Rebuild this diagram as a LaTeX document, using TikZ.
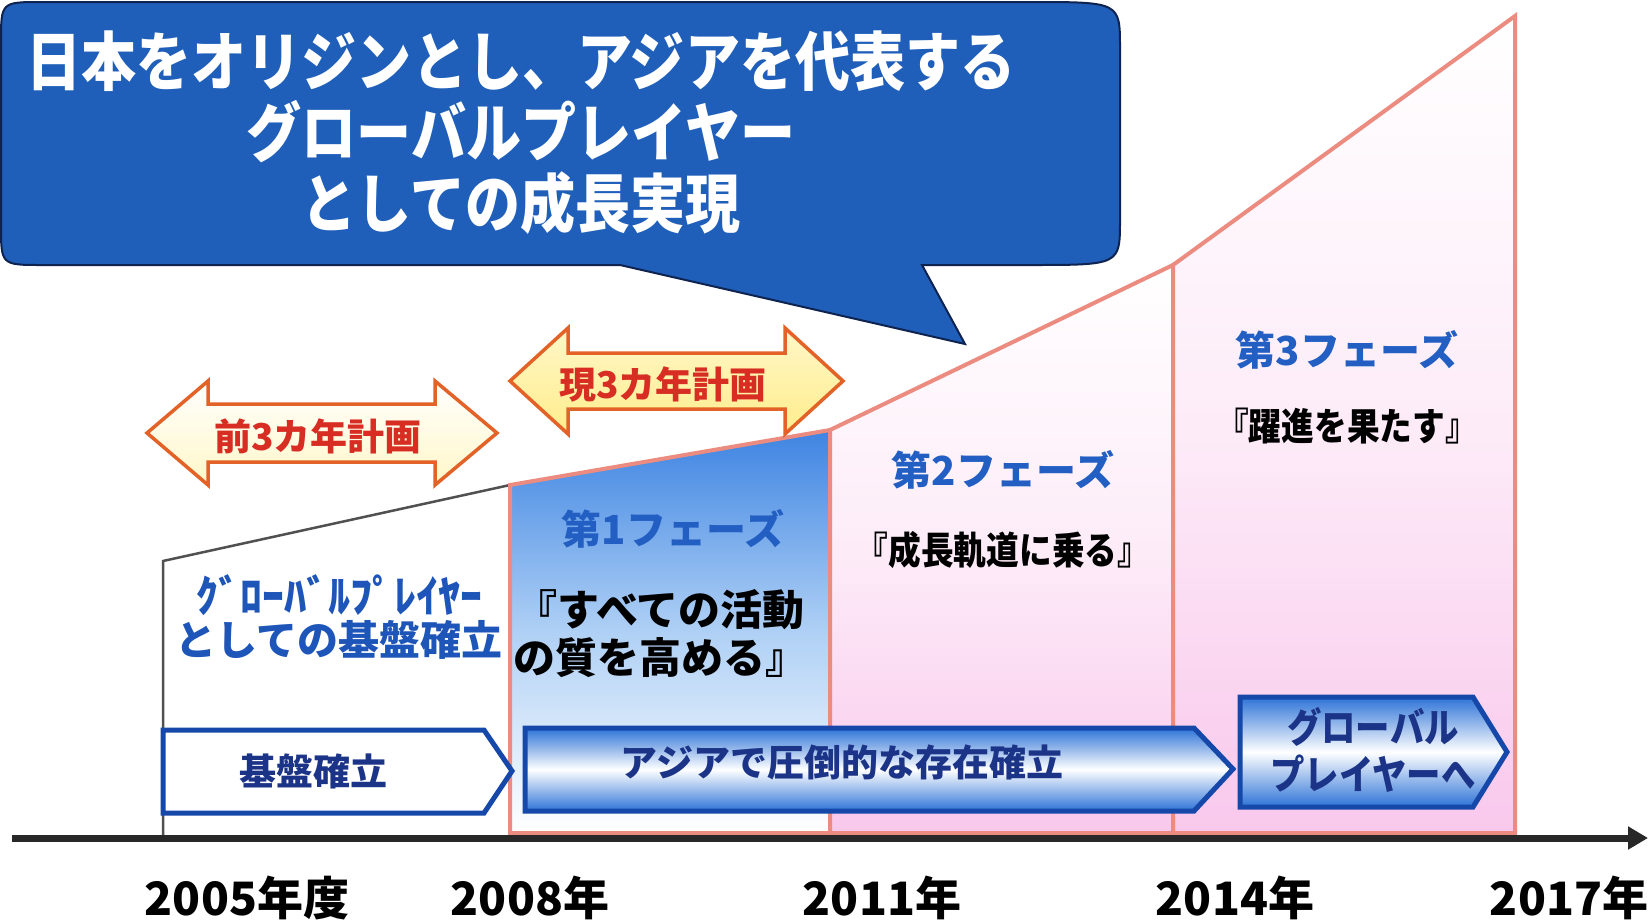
\documentclass[tikz,border=0pt]{standalone}
\usepackage{fontspec}
\usetikzlibrary{arrows.meta}
\newfontfamily\jp{Noto Sans CJK JP}
\newfontfamily\jpc{Noto Sans CJK JP}[FakeStretch=0.86]
\newcommand\fsz[2]{\fontsize{#1}{#2}\selectfont}
\definecolor{bubbleblue}{RGB}{31,95,185}
\definecolor{bubbleedge}{RGB}{15,35,80}
\definecolor{salmon}{RGB}{236,140,128}
\definecolor{pinkfill}{RGB}{249,200,236}
\definecolor{pinklight}{RGB}{253,236,248}
\definecolor{ph1blue}{RGB}{62,132,226}
\definecolor{ph1mid}{RGB}{175,208,245}
\definecolor{orangeedge}{RGB}{226,98,40}
\definecolor{yellowfill}{RGB}{255,237,140}
\definecolor{paleyellow}{RGB}{255,247,200}
\definecolor{chevblue}{RGB}{45,115,215}
\definecolor{chevedge}{RGB}{22,72,170}
\definecolor{navytext}{RGB}{28,52,135}
\definecolor{titleblue}{RGB}{35,95,195}
\definecolor{basetext}{RGB}{30,85,185}
\definecolor{planred}{RGB}{215,45,35}
\definecolor{axisgray}{RGB}{40,40,40}
\definecolor{basegray}{RGB}{80,80,80}
\begin{document}
\begin{tikzpicture}[x=1pt,y=-1pt,
  phasebox/.style={draw=salmon,line width=4pt,line join=miter},
  planarrow/.style={draw=orangeedge,line width=3.5pt,line join=miter},
  chevron/.style={draw=chevedge,line width=5pt,line join=miter},
  bubbletxt/.style={text=white,font=\jpc\bfseries\fsz{64}{71},align=center},
  plantxt/.style={text=planred,font=\jp\bfseries\fsz{37}{42}},
  phasetitle/.style={text=titleblue,font=\jp\bfseries\fsz{40}{46}},
  phasesub/.style={text=black,font=\jp\bfseries\fsz{42}{48},align=center},
  phasesubc/.style={text=black,font=\jpc\bfseries\fsz{38}{44}},
  basetxt/.style={text=basetext,font=\jp\bfseries\fsz{41}{43},align=center},
  chevtxt/.style={text=navytext,font=\jp\bfseries\fsz{37}{42}},
  chevtxtc/.style={text=navytext,font=\jpc\bfseries\fsz{40}{47},align=center},
  yeartxt/.style={text=black,font=\jp\bfseries\fsz{46}{52}},
  axisline/.style={draw=axisgray,line width=7pt,-{Triangle[length=20pt,width=22pt]}}
]
\useasboundingbox (0,0) rectangle (1650,919);
\fill[white] (0,0) rectangle (1650,919);

% base region
\fill[white] (163,838) -- (163,561) -- (510,485) -- (510,838) -- cycle;
\draw[basegray,line width=2.5pt] (163,838) -- (163,561) -- (510,485);

% phases
\path[phasebox,top color=ph1blue,bottom color=white,middle color=ph1mid]
  (510,833) -- (510,485) -- (830,430) -- (830,833) -- cycle;
\path[phasebox,top color=white,bottom color=pinkfill,middle color=pinklight]
  (830,833) -- (830,430) -- (1173,265) -- (1173,833) -- cycle;
\path[phasebox,top color=white,bottom color=pinkfill,middle color=pinklight]
  (1173,833) -- (1173,265) -- (1515,16) -- (1515,833) -- cycle;

% speech bubble
\path[fill=bubbleblue,draw=bubbleedge,line width=2pt]
  (965,344) -- (620,265) -- (42,265) .. controls (1,265) .. (1,225)
  -- (1,42) .. controls (1,2) .. (42,2) -- (1030,2) .. controls (1120,2) .. (1120,48)
  -- (1120,220) .. controls (1120,265) .. (1030,265) -- (922,265) -- cycle;

% plan arrows
\path[planarrow,top color=white,bottom color=paleyellow]
  (147,433) -- (208,381) -- (208,404) -- (435,404) -- (435,381) -- (497,433)
  -- (435,485) -- (435,462) -- (208,462) -- (208,485) -- cycle;
\path[planarrow,top color=paleyellow,bottom color=yellowfill]
  (510,381) -- (568,328) -- (568,353) -- (785,353) -- (785,328) -- (843,381)
  -- (785,434) -- (785,409) -- (568,409) -- (568,434) -- cycle;

% chevrons
\path[chevron,fill=white]
  (163,730) -- (484,730) -- (512,771) -- (484,813) -- (163,813) -- cycle;
\path[chevron,top color=chevblue,bottom color=chevblue,middle color=white]
  (525,728) -- (1194,728) -- (1233,769) -- (1194,811) -- (525,811) -- cycle;
\path[chevron,top color=chevblue,bottom color=chevblue,middle color=white]
  (1240,697) -- (1473,697) -- (1507,752) -- (1473,807) -- (1240,807) -- cycle;

% axis
\coordinate (axL) at (12,838);
\coordinate (axR) at (1648,838);
\draw[axisline] (axL) -- (axR);

% texts
\node[bubbletxt] (bubbletext) at (521,133) {日本をオリジンとし、アジアを代表する\\グローバルプレイヤー\\としての成長実現};
\node[plantxt] (prevplan) at (318,436) {前3カ年計画};
\node[plantxt] (curplan) at (663,384) {現3カ年計画};
\node[phasetitle] (ph1t) at (673,529) {第1フェーズ};
\node[phasesub] (ph1s) at (660,634) {『すべての活動\\の質を高める』};
\node[phasetitle] (ph2t) at (1003,470) {第2フェーズ};
\node[phasesubc] (ph2s) at (1003,550) {『成長軌道に乗る』};
\node[phasetitle] (ph3t) at (1347,350) {第3フェーズ};
\node[phasesubc] (ph3s) at (1347,426) {『躍進を果たす』};
\node[basetxt] (baset) at (339,617) {{\fsz{44}{43}ｸﾞﾛｰﾊﾞﾙﾌﾟﾚｲﾔｰ}\\としての基盤確立};
\node[chevtxt] (kiban) at (313,771) {基盤確立};
\node[chevtxt] (asia) at (842,762) {アジアで圧倒的な存在確立};
\node[chevtxtc] (global) at (1373,750) {グローバル\\プレイヤーへ};
\node[yeartxt] (y2005) at (247,898) {2005年度};
\node[yeartxt] (y2008) at (530,898) {2008年};
\node[yeartxt] (y2011) at (882,898) {2011年};
\node[yeartxt] (y2014) at (1235,898) {2014年};
\node[yeartxt] (y2017) at (1569,898) {2017年};
\end{tikzpicture}
\end{document}
